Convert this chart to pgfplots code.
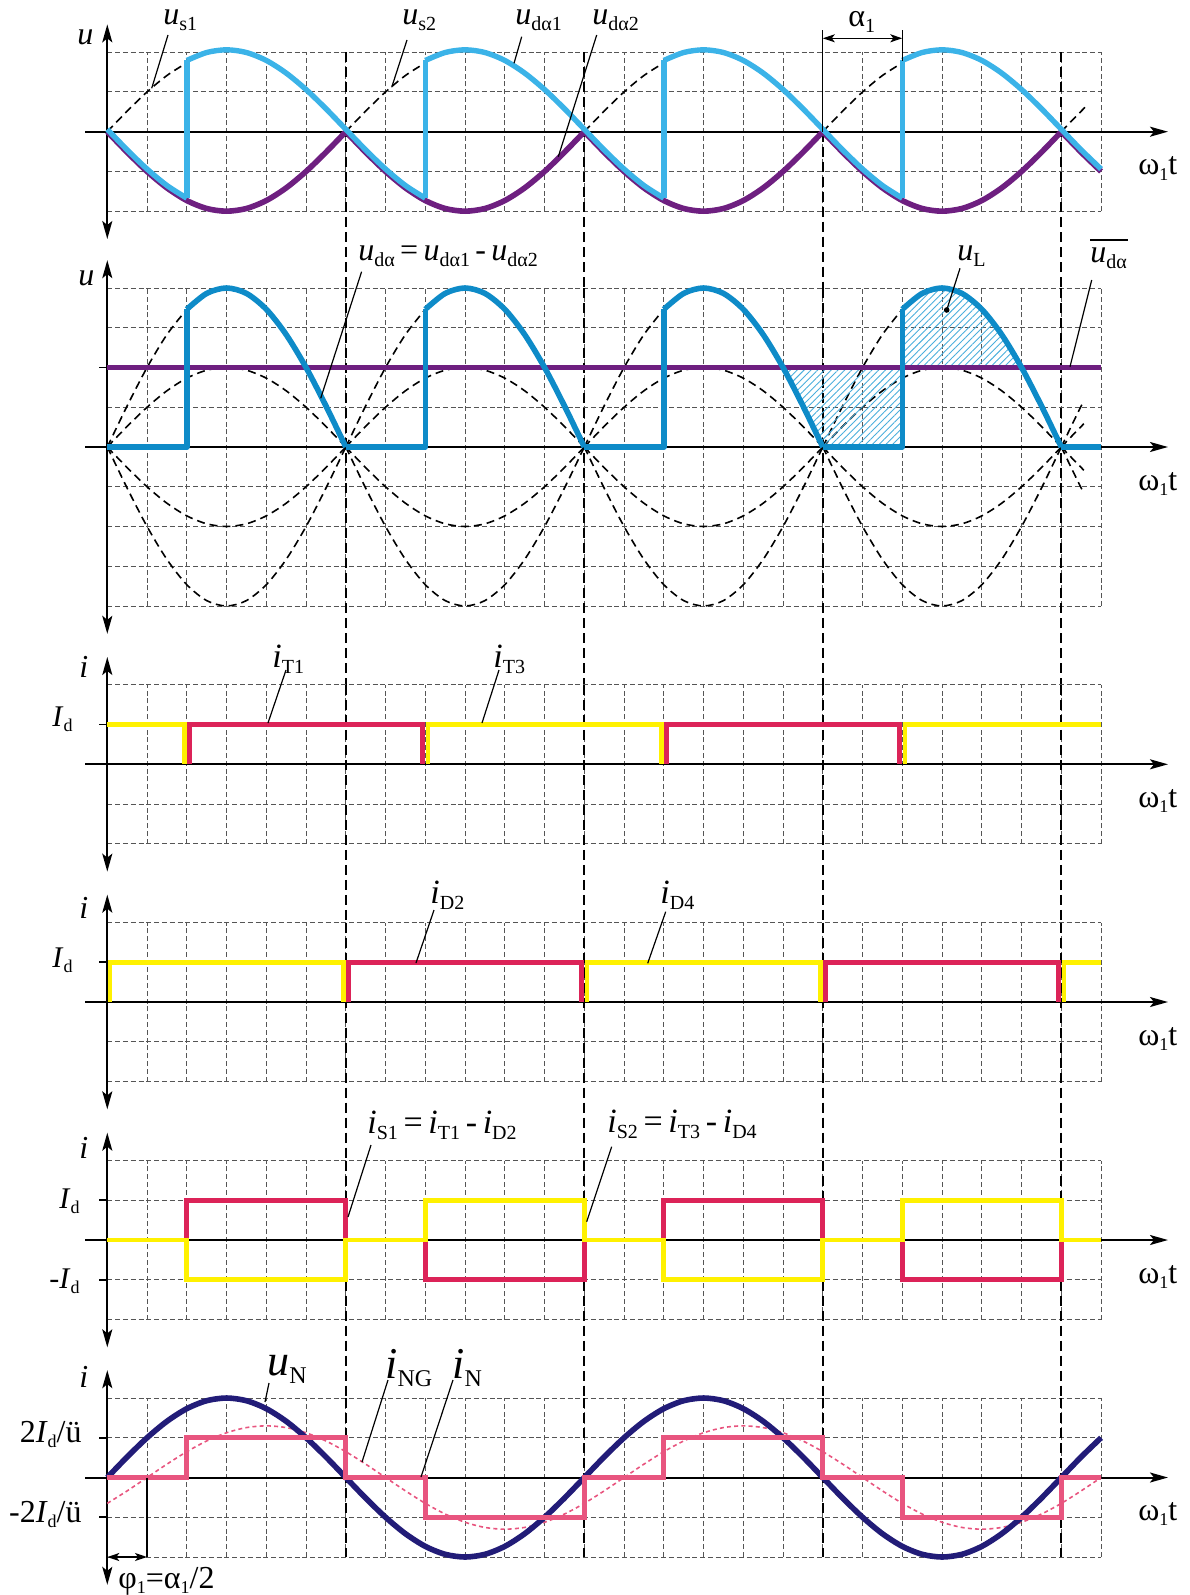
\documentclass[border=0pt]{standalone}
\usepackage{fontspec}
\setmainfont{Liberation Serif}
\usepackage{pgfplots}
\pgfplotsset{compat=1.18}
\usetikzlibrary{arrows.meta,patterns.meta}

\definecolor{gridc}{HTML}{555555}
\definecolor{lblue}{HTML}{3BB3E8}
\definecolor{purp}{HTML}{6E1F80}
\definecolor{dblue}{HTML}{0E8BC8}
\definecolor{hatch}{HTML}{4AAEDC}
\definecolor{rd}{HTML}{DC2358}
\definecolor{yl}{HTML}{FFF100}
\definecolor{pk}{HTML}{E8557F}
\definecolor{navy}{HTML}{221C78}

\newcommand\sub[1]{\raisebox{-3pt}{\fontsize{10}{10}\selectfont #1}}
\newcommand\subs[1]{\raisebox{-2.5pt}{\fontsize{9}{9}\selectfont #1}}
\newcommand\subl[1]{\raisebox{-4pt}{\fontsize{12}{12}\selectfont #1}}
\newcommand\wt{ω\raisebox{-2.5pt}{\fontsize{9}{9}\selectfont 1}t}

\tikzset{
  tip/.tip={Stealth[length=9pt,width=5pt,inset=2pt]},
  stip/.tip={Stealth[length=6pt,width=4pt,inset=1.5pt]},
  vdash/.style={black,line width=1pt,dash pattern=on 5pt off 2.5pt},
  cdash/.style={black,line width=0.8pt,dash pattern=on 4pt off 2.5pt},
  lead/.style={line width=0.6pt},
  lab/.style={inner sep=0pt,anchor=base west,font=\fontsize{16}{16}\selectfont},
}

\pgfplotsset{panel/.style={
  x=0.6625pt, y=19.875pt, anchor=origin,
  xmin=0, xmax=750, enlargelimits=false, clip=false,
  axis line style={draw=none}, tick style={draw=none},
  xtick={0,30,...,750}, ytick={-4,-3,...,4},
  xticklabels={}, yticklabels={},
  xmajorgrids, ymajorgrids,
  grid style={gridc,line width=0.5pt,dash pattern=on 2.5pt off 1.4pt},
  unbounded coords=jump,
}}

% horizontal axis and the vertical double arrow
\newcommand\axlines[1]{%
  \draw[line width=1pt,-tip] (axis cs:-16.6,0) -- (axis cs:800.5,0);
  \draw[line width=1pt,tip-tip] (axis cs:0,-#1) -- (axis cs:0,#1);}
\newcommand\vlines[2]{%
  \draw[vdash] (axis cs:180,#1) -- (axis cs:180,#2);
  \draw[vdash] (axis cs:360,#1) -- (axis cs:360,#2);
  \draw[vdash] (axis cs:540,#1) -- (axis cs:540,#2);
  \draw[vdash] (axis cs:720,#1) -- (axis cs:720,#2);}
\newcommand\ytk[1]{\draw[line width=0.8pt] (axis cs:-6,#1) -- (axis cs:0,#1);}

\begin{document}
\begin{tikzpicture}
\useasboundingbox (0,0) rectangle (594.5pt,-797.5pt);

% ---------- panel 1: u_s, u_da1, u_da2
\begin{axis}[panel, at={(53.65pt,-65.85pt)}, ymin=-2, ymax=2]
\draw[vdash] (axis cs:180,2) -- (axis cs:180,-3.93);
\draw[vdash] (axis cs:360,2) -- (axis cs:360,-3.93);
\draw[vdash] (axis cs:540,0) -- (axis cs:540,-3.93);
\draw[vdash] (axis cs:720,2) -- (axis cs:720,-3.93);
\axlines{2.7}
\addplot[cdash, smooth] coordinates {
 (0,0)(15,0.518)(30,1)(45,1.414)(60,1.732)(60,nan)
 (180,0)(195,0.518)(210,1)(225,1.414)(240,1.732)(240,nan)
 (360,0)(375,0.518)(390,1)(405,1.414)(420,1.732)(420,nan)
 (540,0)(555,0.518)(570,1)(585,1.414)(600,1.732)(600,nan)
 (720,0)(730,0.347)(740,0.684)};
\addplot[purp, line width=2.8pt, smooth] coordinates {
 (0,0)(15,-0.518)(30,-1)(45,-1.414)(60,-1.732)(75,-1.932)(90,-2)(105,-1.932)(120,-1.732)(135,-1.414)(150,-1)(165,-0.518)(180,0)(180,nan)
 (180,0)(195,-0.518)(210,-1)(225,-1.414)(240,-1.732)(255,-1.932)(270,-2)(285,-1.932)(300,-1.732)(315,-1.414)(330,-1)(345,-0.518)(360,0)(360,nan)
 (360,0)(375,-0.518)(390,-1)(405,-1.414)(420,-1.732)(435,-1.932)(450,-2)(465,-1.932)(480,-1.732)(495,-1.414)(510,-1)(525,-0.518)(540,0)(540,nan)
 (540,0)(555,-0.518)(570,-1)(585,-1.414)(600,-1.732)(615,-1.932)(630,-2)(645,-1.932)(660,-1.732)(675,-1.414)(690,-1)(705,-0.518)(720,0)(720,nan)
 (720,0)(735,-0.518)(750,-1)};
\addplot[lblue, line width=2.7pt, smooth, yshift=1.2pt] coordinates {
 (0,0)(15,-0.518)(30,-1)(45,-1.414)(60,-1.732)(60,nan)
 (60,1.732)(75,1.932)(90,2)(105,1.932)(120,1.732)(135,1.414)(150,1)(165,0.518)(180,0)(195,-0.518)(210,-1)(225,-1.414)(240,-1.732)(240,nan)
 (240,1.732)(255,1.932)(270,2)(285,1.932)(300,1.732)(315,1.414)(330,1)(345,0.518)(360,0)(375,-0.518)(390,-1)(405,-1.414)(420,-1.732)(420,nan)
 (420,1.732)(435,1.932)(450,2)(465,1.932)(480,1.732)(495,1.414)(510,1)(525,0.518)(540,0)(555,-0.518)(570,-1)(585,-1.414)(600,-1.732)(600,nan)
 (600,1.732)(615,1.932)(630,2)(645,1.932)(660,1.732)(675,1.414)(690,1)(705,0.518)(720,0)(735,-0.518)(750,-1)};
\addplot[lblue, line width=2.7pt, yshift=1.2pt] coordinates {
 (60,-1.732)(60,1.732)(60,nan)(240,-1.732)(240,1.732)(240,nan)
 (420,-1.732)(420,1.732)(420,nan)(600,-1.732)(600,1.732)};
% alpha_1 bracket
\draw[line width=0.6pt] (axis cs:540,0) -- (axis cs:540,2.56);
\draw[line width=0.6pt] (axis cs:600,1.78) -- (axis cs:600,2.56);
\draw[line width=0.6pt,stip-stip] (axis cs:540,2.35) -- (axis cs:600,2.35);
\end{axis}

% ---------- panel 2: u_da
\begin{axis}[panel, at={(53.65pt,-223.5pt)}, ymin=-4, ymax=4]
\vlines{4}{-5.98}
\axlines{4.7}
\ytk{2}
\addplot[cdash, smooth] coordinates {
 (0,0)(15,1.035)(30,2)(45,2.828)(60,3.464)(60,nan)
 (180,0)(195,1.035)(210,2)(225,2.828)(240,3.464)(240,nan)
 (360,0)(375,1.035)(390,2)(405,2.828)(420,3.464)(420,nan)
 (540,0)(555,1.035)(570,2)(585,2.828)(600,3.464)(600,nan)
 (720,0)(728,0.557)(737,1.169)};
\addplot[cdash, smooth] coordinates {
 (0,0)(15,0.518)(30,1)(45,1.414)(60,1.732)(75,1.932)(90,2)(105,1.932)(120,1.732)(135,1.414)(150,1)(165,0.518)(180,0)(180,nan)
 (180,0)(195,0.518)(210,1)(225,1.414)(240,1.732)(255,1.932)(270,2)(285,1.932)(300,1.732)(315,1.414)(330,1)(345,0.518)(360,0)(360,nan)
 (360,0)(375,0.518)(390,1)(405,1.414)(420,1.732)(435,1.932)(450,2)(465,1.932)(480,1.732)(495,1.414)(510,1)(525,0.518)(540,0)(540,nan)
 (540,0)(555,0.518)(570,1)(585,1.414)(600,1.732)(615,1.932)(630,2)(645,1.932)(660,1.732)(675,1.414)(690,1)(705,0.518)(720,0)(720,nan)
 (720,0)(728,0.278)(737,0.585)};
\addplot[cdash, smooth] coordinates {
 (0,0)(15,-0.518)(30,-1)(45,-1.414)(60,-1.732)(75,-1.932)(90,-2)(105,-1.932)(120,-1.732)(135,-1.414)(150,-1)(165,-0.518)(180,0)(180,nan)
 (180,0)(195,-0.518)(210,-1)(225,-1.414)(240,-1.732)(255,-1.932)(270,-2)(285,-1.932)(300,-1.732)(315,-1.414)(330,-1)(345,-0.518)(360,0)(360,nan)
 (360,0)(375,-0.518)(390,-1)(405,-1.414)(420,-1.732)(435,-1.932)(450,-2)(465,-1.932)(480,-1.732)(495,-1.414)(510,-1)(525,-0.518)(540,0)(540,nan)
 (540,0)(555,-0.518)(570,-1)(585,-1.414)(600,-1.732)(615,-1.932)(630,-2)(645,-1.932)(660,-1.732)(675,-1.414)(690,-1)(705,-0.518)(720,0)(720,nan)
 (720,0)(728,-0.278)(737,-0.585)};
\addplot[cdash, smooth] coordinates {
 (0,0)(15,-1.035)(30,-2)(45,-2.828)(60,-3.464)(75,-3.864)(90,-4)(105,-3.864)(120,-3.464)(135,-2.828)(150,-2)(165,-1.035)(180,0)(180,nan)
 (180,0)(195,-1.035)(210,-2)(225,-2.828)(240,-3.464)(255,-3.864)(270,-4)(285,-3.864)(300,-3.464)(315,-2.828)(330,-2)(345,-1.035)(360,0)(360,nan)
 (360,0)(375,-1.035)(390,-2)(405,-2.828)(420,-3.464)(435,-3.864)(450,-4)(465,-3.864)(480,-3.464)(495,-2.828)(510,-2)(525,-1.035)(540,0)(540,nan)
 (540,0)(555,-1.035)(570,-2)(585,-2.828)(600,-3.464)(615,-3.864)(630,-4)(645,-3.864)(660,-3.464)(675,-2.828)(690,-2)(705,-1.035)(720,0)(720,nan)
 (720,0)(728,-0.557)(737,-1.169)};
% hatched u_L areas
\addplot[draw=none, fill=white, pattern={Lines[angle=45,distance=2.4pt,line width=0.45pt]}, pattern color=hatch] coordinates {
 (510,2)(515,1.690)(520,1.368)(525,1.035)(530,0.695)(535,0.349)(540,0)(600,0)(600,2)} -- cycle;
\addplot[draw=none, pattern={Lines[angle=45,distance=2.4pt,line width=0.45pt]}, pattern color=hatch] coordinates {
 (600,2)(600,3.464)(610,3.759)(620,3.939)(630,4)(640,3.939)(650,3.759)(660,3.464)(670,3.064)(680,2.571)(690,2)} -- cycle;
\addplot[purp, line width=2.8pt] coordinates {(0,2)(750,2)};
\addplot[dblue, line width=2.8pt, smooth] coordinates {
 (60,3.464)(75,3.864)(90,4)(105,3.864)(120,3.464)(135,2.828)(150,2)(165,1.035)(180,0)(180,nan)
 (240,3.464)(255,3.864)(270,4)(285,3.864)(300,3.464)(315,2.828)(330,2)(345,1.035)(360,0)(360,nan)
 (420,3.464)(435,3.864)(450,4)(465,3.864)(480,3.464)(495,2.828)(510,2)(525,1.035)(540,0)(540,nan)
 (600,3.464)(615,3.864)(630,4)(645,3.864)(660,3.464)(675,2.828)(690,2)(705,1.035)(720,0)};
\addplot[dblue, line width=2.8pt, line join=round] coordinates {
 (0,0)(60,0)(60,3.464)(60,nan)(180,0)(240,0)(240,3.464)(240,nan)
 (360,0)(420,0)(420,3.464)(420,nan)(540,0)(600,0)(600,3.464)(600,nan)(720,0)(750,0)};
\end{axis}

% ---------- panel 3: i_T1, i_T3
\begin{axis}[panel, at={(53.65pt,-382.15pt)}, ymin=-2, ymax=2]
\vlines{2}{-3.98}
\axlines{2.7}
\ytk{1}
\addplot[yl, line width=2.4pt] coordinates {
 (0,1)(58,1)(58,0)(58,nan)(242,0)(242,1)(418,1)(418,0)(418,nan)(602,0)(602,1)(750,1)};
\addplot[rd, line width=2.4pt] coordinates {
 (62,0)(62,1)(238,1)(238,0)(238,nan)(422,0)(422,1)(598,1)(598,0)};
\end{axis}

% ---------- panel 4: i_D2, i_D4
\begin{axis}[panel, at={(53.65pt,-501pt)}, ymin=-2, ymax=2]
\vlines{2}{-3.99}
\axlines{2.7}
\ytk{1}
\addplot[yl, line width=2.4pt] coordinates {
 (2,0)(2,1)(178,1)(178,0)(178,nan)(362,0)(362,1)(538,1)(538,0)(538,nan)(722,0)(722,1)(750,1)};
\addplot[rd, line width=2.4pt] coordinates {
 (182,0)(182,1)(358,1)(358,0)(358,nan)(542,0)(542,1)(718,1)(718,0)};
\end{axis}

% ---------- panel 5: i_S1, i_S2
\begin{axis}[panel, at={(53.65pt,-620pt)}, ymin=-2, ymax=2]
\vlines{2}{-3.97}
\axlines{2.7}
\ytk{1}\ytk{-1}
\addplot[rd, line width=2.4pt] coordinates {
 (0,0)(60,0)(60,1)(180,1)(180,0)(240,0)(240,-1)(360,-1)(360,0)(420,0)(420,1)(540,1)(540,0)(600,0)(600,-1)(720,-1)(720,0)(750,0)};
\addplot[yl, line width=2.4pt] coordinates {
 (0,0)(60,0)(60,-1)(180,-1)(180,0)(240,0)(240,1)(360,1)(360,0)(420,0)(420,-1)(540,-1)(540,0)(600,0)(600,1)(720,1)(720,0)(750,0)};
\end{axis}

% ---------- panel 6: u_N, i_NG, i_N
\begin{axis}[panel, at={(53.65pt,-738.75pt)}, ymin=-2, ymax=2]
\vlines{2}{-2}
\axlines{2.7}
\ytk{1}\ytk{-1}
\addplot[pk, line width=0.8pt, dash pattern=on 2pt off 1.6pt, smooth] coordinates {
 (0,-0.65)(15,-0.336)(30,0)(45,0.336)(60,0.65)(75,0.919)(90,1.126)(105,1.256)(120,1.3)(135,1.256)(150,1.126)(165,0.919)(180,0.65)(195,0.336)(210,0)(225,-0.336)(240,-0.65)(255,-0.919)(270,-1.126)(285,-1.256)(300,-1.3)(315,-1.256)(330,-1.126)(345,-0.919)(360,-0.65)(375,-0.336)
 (390,0)(405,0.336)(420,0.65)(435,0.919)(450,1.126)(465,1.256)(480,1.3)(495,1.256)(510,1.126)(525,0.919)(540,0.65)(555,0.336)(570,0)(585,-0.336)(600,-0.65)(615,-0.919)(630,-1.126)(645,-1.256)(660,-1.3)(675,-1.256)(690,-1.126)(705,-0.919)(720,-0.65)(735,-0.336)(750,0)};
\addplot[navy, line width=2.8pt, smooth] coordinates {
 (0,0)(15,0.518)(30,1)(45,1.414)(60,1.732)(75,1.932)(90,2)(105,1.932)(120,1.732)(135,1.414)(150,1)(165,0.518)(180,0)(195,-0.518)(210,-1)(225,-1.414)(240,-1.732)(255,-1.932)(270,-2)(285,-1.932)(300,-1.732)(315,-1.414)(330,-1)(345,-0.518)(360,0)
 (375,0.518)(390,1)(405,1.414)(420,1.732)(435,1.932)(450,2)(465,1.932)(480,1.732)(495,1.414)(510,1)(525,0.518)(540,0)(555,-0.518)(570,-1)(585,-1.414)(600,-1.732)(615,-1.932)(630,-2)(645,-1.932)(660,-1.732)(675,-1.414)(690,-1)(705,-0.518)(720,0)(735,0.518)(750,1)};
\addplot[pk, line width=2.4pt] coordinates {
 (0,0)(60,0)(60,1)(180,1)(180,0)(240,0)(240,-1)(360,-1)(360,0)(420,0)(420,1)(540,1)(540,0)(600,0)(600,-1)(720,-1)(720,0)(750,0)};
\draw[line width=0.8pt] (axis cs:30,0) -- (axis cs:30,-2);
\draw[line width=0.8pt,stip-stip] (axis cs:0,-2) -- (axis cs:30,-2);
\end{axis}

% ---------- labels and leader lines (reference pixel frame)
\begin{scope}[x=0.5pt,y=-0.5pt]
% panel 1
\node[lab] at (77,45) {\textit{u}};
\node[lab] at (163,25) {\textit{u}\sub{s1}};
\node[lab] at (402,25) {\textit{u}\sub{s2}};
\node[lab] at (515,25) {\textit{u}\sub{dα1}};
\node[lab] at (592,25) {\textit{u}\sub{dα2}};
\node[lab] at (848,27) {α\sub{1}};
\node[lab] at (1138,175) {\wt};
\draw[lead] (168,35) -- (151.7,88.3);
\draw[lead] (407,40) -- (391.7,87.3);
\draw[lead] (521.7,36.7) -- (514,63.3);
\draw[lead] (596.7,35) -- (558.3,156.7);
% panel 2
\node[lab] at (78,285) {\textit{u}};
\node[lab] at (358,260) {\textit{u}\sub{dα}\,=\,\textit{u}\sub{dα1}\,-\,\textit{u}\sub{dα2}};
\node[lab] at (957,260) {\textit{u}\sub{L}};
\node[lab] at (1090,262) {\textit{u}\sub{dα}};
\draw[line width=0.6pt] (1090,240) -- (1128,240);
\node[lab] at (1138,490) {\wt};
\draw[lead] (361.6,271.7) -- (320.7,398.3);
\draw[lead] (960,268.3) -- (946.7,310);
\fill (946.7,310) circle (1.4pt);
\draw[lead] (1091.7,280) -- (1070,366.7);
% panel 3
\node[lab,font=\fontsize{16}{16}\selectfont] at (79,677) {\textit{i}};
\node[lab,font=\fontsize{15}{15}\selectfont] at (52,726) {\textit{I}\subs{d}};
\node[lab,font=\fontsize{17}{17}\selectfont] at (272,667) {\textit{i}\sub{T1}};
\node[lab,font=\fontsize{17}{17}\selectfont] at (493,667) {\textit{i}\sub{T3}};
\node[lab] at (1138,807) {\wt};
\draw[lead] (286,670) -- (268,723);
\draw[lead] (499,670) -- (482,723);
% panel 4
\node[lab,font=\fontsize{16}{16}\selectfont] at (79,918) {\textit{i}};
\node[lab,font=\fontsize{15}{15}\selectfont] at (52,967) {\textit{I}\subs{d}};
\node[lab,font=\fontsize{17}{17}\selectfont] at (430,903) {\textit{i}\sub{D2}};
\node[lab,font=\fontsize{17}{17}\selectfont] at (660,903) {\textit{i}\sub{D4}};
\node[lab] at (1138,1045) {\wt};
\draw[lead] (434,910) -- (416,963);
\draw[lead] (665.7,911.7) -- (647.7,963.3);
% panel 5
\node[lab,font=\fontsize{16}{16}\selectfont] at (79,1158) {\textit{i}};
\node[lab,font=\fontsize{15}{15}\selectfont] at (59,1208) {\textit{I}\subs{d}};
\node[lab,font=\fontsize{15}{15}\selectfont] at (49,1288) {-\textit{I}\subs{d}};
\node[lab,font=\fontsize{17}{17}\selectfont] at (367,1133) {\textit{i}\sub{S1}\,=\,\textit{i}\sub{T1}\,-\,\textit{i}\sub{D2}};
\node[lab,font=\fontsize{17}{17}\selectfont] at (607,1132) {\textit{i}\sub{S2}\,=\,\textit{i}\sub{T3}\,-\,\textit{i}\sub{D4}};
\node[lab] at (1138,1283) {\wt};
\draw[lead] (371,1145) -- (348,1217);
\draw[lead] (611.7,1146.7) -- (586.7,1221.7);
% panel 6
\node[lab,font=\fontsize{16}{16}\selectfont] at (79,1387) {\textit{i}};
\node[lab,anchor=base east,font=\fontsize{16}{16}\selectfont] at (82,1442) {2\textit{I}\subs{d}/ü};
\node[lab,anchor=base east,font=\fontsize{16}{16}\selectfont] at (82,1522) {-2\textit{I}\subs{d}/ü};
\node[lab,font=\fontsize{22}{22}\selectfont] at (267,1375) {\textit{u}\subl{N}};
\node[lab,font=\fontsize{22}{22}\selectfont] at (385,1378) {\textit{i}\subl{NG}};
\node[lab,font=\fontsize{22}{22}\selectfont] at (452,1378) {\textit{i}\subl{N}};
\node[lab] at (118,1588) {φ\subs{1}=α\subs{1}/2};
\node[lab] at (1138,1520) {\wt};
\draw[lead] (269,1383) -- (265,1402);
\draw[lead] (388,1380) -- (362,1462);
\draw[lead] (453,1380) -- (421,1477);
\end{scope}
\end{tikzpicture}
\end{document}
